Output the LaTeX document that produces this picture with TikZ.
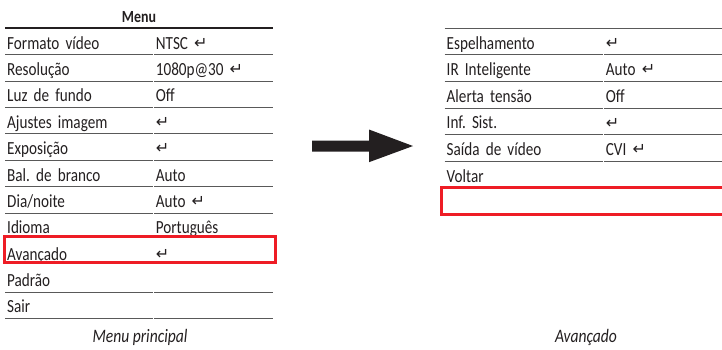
\documentclass[tikz,border=0pt]{standalone}
\usepackage{fontspec}
\setmainfont[FakeStretch=0.82]{Carlito}
\newfontfamily\symfont{DejaVu Sans}
\usetikzlibrary{calc, positioning}
\definecolor{menu_red}{HTML}{EE1C25}
\definecolor{menu_ink}{HTML}{231F20}
\newcommand{\entersym}{\raisebox{0.8bp}{\symfont\fontsize{16bp}{16bp}\selectfont ↵}}
\frenchspacing
\tikzstyle{menu_cell}=[rectangle, inner xsep=2bp, inner ysep=0pt, minimum height=26bp,
   text height=15bp, text depth=0pt, align=left, text=menu_ink,
   font=\fontsize{18.5bp}{20bp}\selectfont]
\tikzstyle{main_label}=[menu_cell, text width=144.3bp]
\tikzstyle{main_value}=[menu_cell, text width=114.7bp]
\tikzstyle{adv_label}=[menu_cell, minimum height=26.2bp, text width=154.8bp]
\tikzstyle{adv_value}=[menu_cell, minimum height=26.2bp, text width=122.7bp]
\tikzstyle{menu_head}=[menu_cell, align=center, font=\fontsize{17bp}{20bp}\selectfont\bfseries]
\tikzstyle{head_rule}=[line width=2bp, menu_ink]
\tikzstyle{row_rule}=[line width=0.9bp, black!65]
\tikzstyle{highlight}=[line width=3bp, menu_red]
\tikzstyle{caption}=[anchor=base, text=menu_ink, font=\fontsize{19bp}{20bp}\selectfont\itshape]

\begin{document}
\begin{tikzpicture}[x=1bp, y=-1bp]

\useasboundingbox (0,0) rectangle (722,349);

% Menu principal
\node [main_label] (fmt_l)   [anchor=north west] at (5,28.3) {Formato vídeo};
\node [main_value] (fmt_v)   [right=0pt of fmt_l]    {NTSC \entersym};
\node [main_label] (res_l)   [below=0pt of fmt_l]    {Resolução};
\node [main_value] (res_v)   [right=0pt of res_l]    {1080p@30 \entersym};
\node [main_label] (luz_l)   [below=0pt of res_l]    {Luz de fundo};
\node [main_value] (luz_v)   [right=0pt of luz_l]    {Off};
\node [main_label] (aju_l)   [below=0pt of luz_l]    {Ajustes imagem};
\node [main_value] (aju_v)   [right=0pt of aju_l]    {\entersym};
\node [main_label] (expo_l)  [below=0pt of aju_l]    {Exposição};
\node [main_value] (expo_v)  [right=0pt of expo_l]   {\entersym};
\node [main_label] (bal_l)   [below=0pt of expo_l]   {Bal. de branco};
\node [main_value] (bal_v)   [right=0pt of bal_l]    {Auto};
\node [main_label] (dia_l)   [below=0pt of bal_l]    {Dia/noite};
\node [main_value] (dia_v)   [right=0pt of dia_l]    {Auto \entersym};
\node [main_label] (idi_l)   [below=0pt of dia_l]    {Idioma};
\node [main_value] (idi_v)   [right=0pt of idi_l]    {Português};
\node [main_label] (ava_l)   [below=0pt of idi_l]    {Avançado};
\node [main_value] (ava_v)   [right=0pt of ava_l]    {\entersym};
\node [main_label] (pad_l)   [below=0pt of ava_l]    {Padrão};
\node [main_value] (pad_v)   [right=0pt of pad_l]    {};
\node [main_label] (sair_l)  [below=0pt of pad_l]    {Sair};
\node [main_value] (sair_v)  [right=0pt of sair_l]   {};

\node [menu_head, anchor=south] (menu_title) at ($(fmt_l.north west)!0.5!(fmt_v.north east)$) {Menu};
\draw [head_rule] (fmt_l.north west) -- (fmt_v.north east);

% Avançado
\node [adv_label] (esp_l)    [anchor=north west] at (444.5,28.3) {Espelhamento};
\node [adv_value] (esp_v)    [right=0pt of esp_l]    {\entersym};
\node [adv_label] (irint_l)  [below=0pt of esp_l]    {IR Inteligente};
\node [adv_value] (irint_v)  [right=0pt of irint_l]  {Auto \entersym};
\node [adv_label] (ale_l)    [below=0pt of irint_l]  {Alerta tensão};
\node [adv_value] (ale_v)    [right=0pt of ale_l]    {Off};
\node [adv_label] (inf_l)    [below=0pt of ale_l]    {Inf. Sist.};
\node [adv_value] (inf_v)    [right=0pt of inf_l]    {\entersym};
\node [adv_label] (saida_l)  [below=0pt of inf_l]    {Saída de vídeo};
\node [adv_value] (saida_v)  [right=0pt of saida_l]  {CVI \entersym};
\node [adv_label] (vol_l)    [below=0pt of saida_l]  {Voltar};
\node [adv_value] (vol_v)    [right=0pt of vol_l]    {};
\node [adv_label] (blank_l)  [below=0pt of vol_l]    {};
\node [adv_value] (blank_v)  [right=0pt of blank_l]  {};

\draw [row_rule] (esp_l.north west) -- (esp_v.north east);

% row rules, split at the column edge (rows under the red frames get none)
\foreach \r in {fmt,res,luz,aju,expo,bal,dia,pad,sair,esp,irint,ale,inf,saida} {
    \draw [row_rule] (\r_l.south west) -- ([xshift=-0.6bp]\r_l.south east);
    \draw [row_rule] ([xshift=0.6bp]\r_v.south west) -- (\r_v.south east);
}

% selected rows
\draw [highlight] ([shift={(-1bp,3.2bp)}]ava_l.north west) rectangle ([shift={(3bp,3.2bp)}]ava_v.south east);
\draw [highlight] ([shift={(-3.5bp,0.2bp)}]blank_l.north west) rectangle ([shift={(0bp,0.3bp)}]blank_v.south east);

% arrow between the menus
\coordinate (arrow_tail) at (312,146);
\coordinate (arrow_tip)  at (413,146);
\fill [menu_ink] ($(arrow_tail)+(0,-5.5)$) -- ++(57,0) -- ++(0,-11) -- (arrow_tip)
    -- ($(arrow_tail)+(57,16.2)$) -- ++(0,-10.7) -- ($(arrow_tail)+(0,5.5)$) -- cycle;

% captions
\node [caption] (main_caption) at (140,342.5) {Menu principal};
\node [caption] (adv_caption)  at (586,342.5) {Avançado};

\end{tikzpicture}
\end{document}
